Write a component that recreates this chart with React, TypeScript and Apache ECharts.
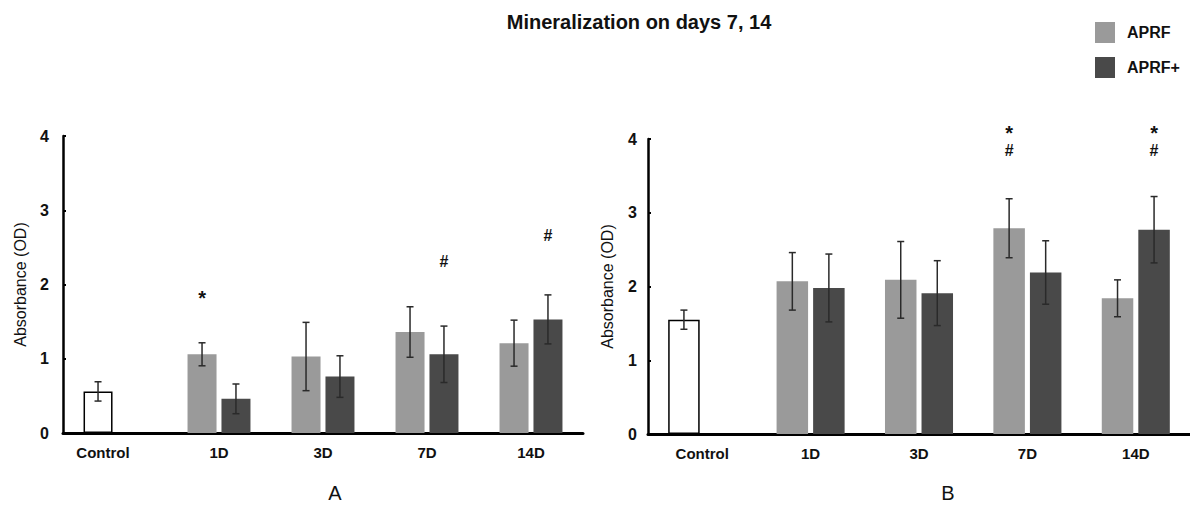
import React, { useEffect, useRef } from "react";
import * as echarts from "echarts";

// ---------- data ----------
const categories = ["Control", "1D", "3D", "7D", "14D"];
const seriesNames = ["APRF", "APRF+"];
const yTicks = [0, 1, 2, 3, 4];

// Panel A
const aprfA = [0.56, 1.06, 1.03, 1.36, 1.21];
const aprfErrA = [0.13, 0.155, 0.46, 0.34, 0.31];
const aprfPlusA = [null, 0.46, 0.76, 1.06, 1.53];
const aprfPlusErrA = [null, 0.2, 0.28, 0.38, 0.33];
const marksA = [
  { cat: 1, slot: 0, y: 1.89, text: "*" },
  { cat: 3, slot: 1, y: 2.31, text: "#" },
  { cat: 4, slot: 1, y: 2.66, text: "#" },
];

// Panel B
const aprfB = [1.55, 2.07, 2.09, 2.79, 1.84];
const aprfErrB = [0.13, 0.39, 0.52, 0.4, 0.25];
const aprfPlusB = [null, 1.98, 1.91, 2.19, 2.77];
const aprfPlusErrB = [null, 0.46, 0.44, 0.43, 0.45];
const marksB = [
  { cat: 3, slot: 0, y: 4.15, text: "*" },
  { cat: 3, slot: 0, y: 3.85, text: "#" },
  { cat: 4, slot: 1, y: 4.15, text: "*" },
  { cat: 4, slot: 1, y: 3.85, text: "#" },
];

const chartTitle = "Mineralization on days 7, 14";
const panelLabels = ["A", "B"];
const yName = "Absorbance (OD)";

// ---------- styles ----------
const FONT = '"Liberation Sans", Arial, Helvetica, sans-serif';
const LIGHT = "#9a9a9a";
const DARK = "#494949";
const INK = "#111111";

export default function App() {
  const ref = useRef<HTMLDivElement>(null);

  useEffect(() => {
    if (!ref.current) return;
    const chart = echarts.init(ref.current, undefined, { renderer: "svg" });

    const panels = [
      { aprf: aprfA, aprfErr: aprfErrA, plus: aprfPlusA, plusErr: aprfPlusErrA, marks: marksA, bw: 29, gap: 0.17, labelMargin: 14, nameGap: 35 },
      { aprf: aprfB, aprfErr: aprfErrB, plus: aprfPlusB, plusErr: aprfPlusErrB, marks: marksB, bw: 31.5, gap: 0.16, labelMargin: 11, nameGap: 33 },
    ];

    const grids = [
      { left: 63, top: 136, width: 520, height: 297 },
      { left: 648, top: 139, width: 555, height: 295 },
    ];

    const xAxes = panels.map((p, g) => ({
      type: "category",
      gridIndex: g,
      data: categories.map((c, i) =>
        g === 0 && i === 0 ? { value: c, textStyle: { padding: [0, 24, 0, 0] } } : c
      ),
      axisLine: { show: true, lineStyle: { color: "#000", width: 3 } },
      axisTick: { show: false },
      axisLabel: { margin: 12, fontSize: 15, fontWeight: "bold", color: INK, fontFamily: FONT },
      splitLine: { show: false },
    }));

    const yAxes = panels.map((p, g) => ({
      type: "value",
      gridIndex: g,
      min: yTicks[0],
      max: yTicks[yTicks.length - 1],
      interval: 1,
      axisLine: { show: true, lineStyle: { color: "#000", width: 2.5 } },
      axisTick: { show: true, inside: true, length: 3, lineStyle: { color: "#000", width: 2 } },
      splitLine: { show: false },
      axisLabel: { margin: p.labelMargin, fontSize: 16, fontWeight: "bold", color: INK, fontFamily: FONT },
      name: yName,
      nameLocation: "middle",
      nameGap: p.nameGap,
      nameTextStyle: { fontSize: 16, color: INK, fontFamily: FONT },
    }));

    const series: any[] = [];
    panels.forEach((p, g) => {
      const off = (p.bw * (1 + p.gap)) / 2;
      series.push({
        name: seriesNames[0],
        type: "bar",
        xAxisIndex: g,
        yAxisIndex: g,
        barWidth: p.bw,
        barGap: `${Math.round(p.gap * 100)}%`,
        itemStyle: { color: LIGHT },
        data: p.aprf.map((v, i) =>
          i === 0
            ? { value: v, itemStyle: { color: "#ffffff", borderColor: "#000", borderWidth: 1.5 } }
            : v
        ),
        silent: true,
      });
      series.push({
        name: seriesNames[1],
        type: "bar",
        xAxisIndex: g,
        yAxisIndex: g,
        barWidth: p.bw,
        barGap: `${Math.round(p.gap * 100)}%`,
        itemStyle: { color: DARK },
        data: p.plus.map((v) => (v == null ? "-" : v)),
        silent: true,
      });

      // error bars
      const errData: number[][] = [];
      p.aprf.forEach((v, i) => {
        const e = p.aprfErr[i];
        if (v != null && e != null) errData.push([i, v - e, v + e, 0]);
      });
      p.plus.forEach((v, i) => {
        const e = p.plusErr[i];
        if (v != null && e != null) errData.push([i, v - e, v + e, 1]);
      });
      series.push({
        type: "custom",
        xAxisIndex: g,
        yAxisIndex: g,
        silent: true,
        z: 10,
        encode: { x: 0, y: [1, 2] },
        data: errData,
        renderItem: (params: any, api: any) => {
          const cat = api.value(0);
          const lo = api.value(1);
          const hi = api.value(2);
          const slot = api.value(3);
          const pLo = api.coord([cat, lo]);
          const pHi = api.coord([cat, hi]);
          const x = pLo[0] + (slot === 0 ? -off : off);
          const cw = 3.5;
          const st = { stroke: "#2a2a2a", lineWidth: 1.5 };
          return {
            type: "group",
            children: [
              { type: "line", shape: { x1: x, y1: pHi[1], x2: x, y2: pLo[1] }, style: st },
              { type: "line", shape: { x1: x - cw, y1: pHi[1], x2: x + cw, y2: pHi[1] }, style: st },
              { type: "line", shape: { x1: x - cw, y1: pLo[1], x2: x + cw, y2: pLo[1] }, style: st },
            ],
          };
        },
      });

      // significance marks
      const marks = p.marks;
      series.push({
        type: "custom",
        xAxisIndex: g,
        yAxisIndex: g,
        silent: true,
        z: 11,
        clip: false,
        encode: { x: 0, y: 1 },
        data: marks.map((m) => [m.cat, m.y, m.slot]),
        renderItem: (params: any, api: any) => {
          const m = marks[params.dataIndex];
          const pt = api.coord([api.value(0), api.value(1)]);
          const x = pt[0] + (api.value(2) === 0 ? -off : off);
          const isStar = m.text === "*";
          return {
            type: "text",
            x,
            y: pt[1] + (isStar ? 5 : 0),
            style: {
              text: m.text,
              fontSize: isStar ? 20 : 16,
              fontWeight: "bold",
              fontFamily: FONT,
              fill: INK,
              align: "center",
              verticalAlign: "middle",
              textAlign: "center",
              textVerticalAlign: "middle",
            },
          };
        },
      });
    });

    chart.setOption({
      animation: false,
      backgroundColor: "#ffffff",
      grid: grids,
      xAxis: xAxes,
      yAxis: yAxes,
      legend: {
        data: seriesNames.map((n) => ({ name: n, icon: "rect" })),
        orient: "vertical",
        left: 1090,
        top: 17,
        itemWidth: 20,
        itemHeight: 21,
        itemGap: 14,
        selectedMode: false,
        textStyle: { fontSize: 16, fontWeight: "bold", color: INK, fontFamily: FONT, padding: [0, 0, 0, 7] },
      },
      graphic: [
        {
          type: "text",
          x: 639,
          y: 22,
          style: {
            text: chartTitle,
            fontSize: 20,
            fontWeight: "bold",
            fontFamily: FONT,
            fill: INK,
            align: "center",
            verticalAlign: "middle",
            textAlign: "center",
            textVerticalAlign: "middle",
          },
        },
        {
          type: "text",
          x: 335,
          y: 493,
          style: {
            text: panelLabels[0],
            fontSize: 20,
            fontFamily: FONT,
            fill: INK,
            align: "center",
            verticalAlign: "middle",
            textAlign: "center",
            textVerticalAlign: "middle",
          },
        },
        {
          type: "text",
          x: 948,
          y: 493,
          style: {
            text: panelLabels[1],
            fontSize: 20,
            fontFamily: FONT,
            fill: INK,
            align: "center",
            verticalAlign: "middle",
            textAlign: "center",
            textVerticalAlign: "middle",
          },
        },
      ],
      series,
    });

    return () => {
      chart.dispose();
    };
  }, []);

  return (
    <div
      ref={ref}
      style={{ position: "fixed", left: 0, top: 0, width: 1190, height: 505, background: "#fff" }}
    />
  );
}
